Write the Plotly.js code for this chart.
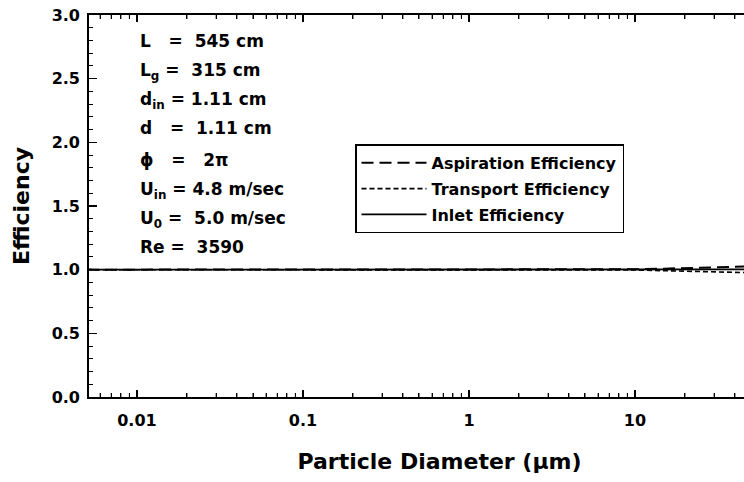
<!DOCTYPE html>
<html>
<head>
<meta charset="utf-8">
<script src="https://cdn.plot.ly/plotly-3.0.1.min.js"></script>
<style>
html,body{margin:0;padding:0;overflow:hidden;background:#fff;}
#chart{width:800px;height:482px;}
</style>
</head>
<body>
<div id="chart"></div>
<script>
// Particle diameter (µm)
const diameter = [0.005, 0.01, 0.1, 1, 5, 8, 10, 15, 20, 30, 40, 50];
// Efficiency series
const aspiration = [1.0, 1.0, 1.0, 1.0, 1.0, 1.001, 1.003, 1.008, 1.012, 1.018, 1.023, 1.026];
const transport  = [1.0, 1.0, 1.0, 1.0, 1.0, 0.999, 0.997, 0.992, 0.988, 0.983, 0.979, 0.976];
const inlet      = [1.0, 1.0, 1.0, 1.0, 1.0, 1.0, 1.0, 1.0, 1.0, 1.001, 1.002, 1.002];
const seriesNames = ['Aspiration Efficiency', 'Transport Efficiency', 'Inlet Efficiency'];
// Axis ticks
const yTickStep = 0.5;        // 0.0, 0.5, ... 3.0
const xTickStepDecades = 1;   // 0.01, 0.1, 1, 10
const xDecades = [0.001, 0.01, 0.1, 1, 10, 100];
const minorMultipliers = [2, 3, 4, 5, 6, 7, 8, 9];
const paramLines = [
  'L\u00A0\u00A0 =\u00A0 545 cm',
  'L<sub>g</sub> =\u00A0 315 cm',
  'd<sub>in</sub> = 1.11 cm',
  'd\u00A0\u00A0 =\u00A0 1.11 cm',
  '\u03D5\u00A0\u00A0 =\u00A0\u00A0 2\u03C0',
  'U<sub>in</sub> = 4.8 m/sec',
  'U<sub>0</sub> =\u00A0 5.0 m/sec',
  'Re =\u00A0 3590'
];

const FONT = 'DejaVu Sans, Verdana, sans-serif';
const plotTop = 14.5, plotBottom = 396.7, plotH = plotBottom - plotTop;
const linePix = [41, 71, 100, 128, 160, 190, 219, 247];
const xRange = [-2.289, 1.934];

const traces = [
  {x: diameter, y: aspiration, name: seriesNames[0], legendgroup: 'a',
   line: {color: '#000', width: 2, dash: '12px,6px'}},
  {x: diameter, y: transport, name: seriesNames[1], legendgroup: 'b',
   line: {color: '#000', width: 1.6, dash: '5px,3px'}},
  {x: diameter, y: inlet, name: seriesNames[2], legendgroup: 'c',
   line: {color: '#000', width: 1.8}}
].map(o => Object.assign({type: 'scatter', mode: 'lines'}, o));

const annotations = paramLines.map((txt, i) => ({
  text: txt, xref: 'paper', yref: 'paper',
  x: (138 - 89) / 701, y: (plotBottom - linePix[i]) / plotH,
  xanchor: 'left', yanchor: 'middle', showarrow: false,
  font: {family: FONT, size: 17, color: '#000', weight: 'bold'}
}));

// x-axis tick marks (bottom and mirrored top), placed by the log scale of the x range
const shapes = [];
function addXTick(v, lenPx, w) {
  const lv = Math.log10(v);
  if (lv < xRange[0] || lv > xRange[1]) return;
  const fx = (lv - xRange[0]) / (xRange[1] - xRange[0]);
  const fl = lenPx / plotH;
  [[0, fl], [1, 1 - fl]].forEach(([a, b]) => shapes.push({
    type: 'line', xref: 'paper', yref: 'paper', x0: fx, x1: fx, y0: a, y1: b,
    line: {color: '#000', width: w}, layer: 'above'
  }));
}
xDecades.forEach(d => {
  addXTick(d, 7, 1.3);
  minorMultipliers.forEach(m => addXTick(d * m, 4, 1));
});

const layout = {
  width: 800, height: 482,
  margin: {l: 89, r: 10, t: plotTop, b: 482 - plotBottom},
  paper_bgcolor: '#fff', plot_bgcolor: '#fff',
  showlegend: true,
  legend: {
    x: (355 - 89) / 701, y: (plotBottom - 144) / plotH,
    xanchor: 'left', yanchor: 'top',
    bgcolor: '#fff', bordercolor: '#000', borderwidth: 1.5,
    font: {family: FONT, size: 16, color: '#000', weight: 'bold'},
    tracegroupgap: 2, itemwidth: 65
  },
  xaxis: {
    type: 'log', range: xRange,
    tickmode: 'linear', tick0: 0, dtick: xTickStepDecades,
    ticks: 'inside', ticklen: 7, tickwidth: 1.3, tickcolor: '#000',
    minor: {dtick: 'D1', ticks: 'inside', ticklen: 4, tickwidth: 1, tickcolor: '#000', showgrid: false},
    showline: true, linecolor: '#000', linewidth: 1.8, mirror: 'ticks',
    showgrid: false, zeroline: false, ticklabelstandoff: 8,
    tickfont: {family: FONT, size: 16, color: '#000', weight: 'bold'},
    title: {text: 'Particle Diameter (\u03BCm)', standoff: 24,
            font: {family: FONT, size: 22, color: '#000', weight: 'bold'}}
  },
  yaxis: {
    range: [0, 3], tickmode: 'linear', tick0: 0, dtick: yTickStep, tickformat: '.1f',
    ticks: 'inside', ticklen: 8, tickwidth: 1.3, tickcolor: '#000',
    minor: {tickmode: 'linear', tick0: 0, dtick: 0.1, ticks: 'inside', ticklen: 4, tickwidth: 1, tickcolor: '#000', showgrid: false},
    showline: true, linecolor: '#000', linewidth: 1.8, mirror: 'ticks',
    showgrid: false, zeroline: false, ticklabelstandoff: 4,
    tickfont: {family: FONT, size: 16, color: '#000', weight: 'bold'},
    title: {text: 'Efficiency', standoff: 16,
            font: {family: FONT, size: 22, color: '#000', weight: 'bold'}}
  },
  annotations: annotations,
  shapes: shapes
};

Plotly.newPlot('chart', traces, layout, {staticPlot: true, displayModeBar: false});
</script>
</body>
</html>
